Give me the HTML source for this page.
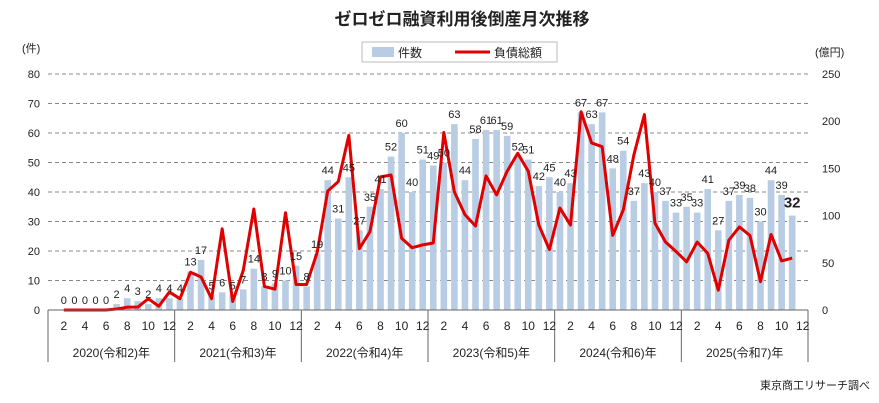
<!DOCTYPE html>
<html><head><meta charset="utf-8"><style>
body{margin:0;background:#fff;}
svg{display:block;font-family:"Liberation Sans","Noto Sans CJK JP",sans-serif;}
</style></head><body>
<svg id="c" width="879" height="403" viewBox="0 0 879 403">
<text x="462" y="25" text-anchor="middle" font-size="17" font-weight="bold" fill="#222">ゼロゼロ融資利用後倒産月次推移</text>
<g>
<rect x="362" y="42" width="195" height="20" fill="#fff" stroke="#bbb"/>
<rect x="372" y="47" width="22" height="10" fill="#b8cce4"/>
<text x="398" y="57" font-size="12" fill="#222">件数</text>
<line x1="455" y1="52" x2="490" y2="52" stroke="#e00000" stroke-width="3"/>
<text x="494" y="57" font-size="12" fill="#222">負債総額</text>
</g>
<text x="22" y="52" font-size="11" fill="#222">(件)</text>
<text x="815" y="56" font-size="11" fill="#222">(億円)</text>
<text x="870" y="389" text-anchor="end" font-size="11" fill="#222">東京商工リサーチ調べ</text>
</svg>
<script>
const years = ["2020(令和2)年","2021(令和3)年","2022(令和4)年","2023(令和5)年","2024(令和6)年","2025(令和7)年"];
const leftTicks = [0,10,20,30,40,50,60,70,80];
const rightTicks = [0,50,100,150,200,250];
const monthLabels = [2,4,6,8,10,12];
const counts = [null,0,0,0,0,0,2,4,3,2,4,4,
 4,13,17,5,6,5,7,14,8,9,10,15,
 8,19,44,31,45,27,35,41,52,60,40,51,
 49,50,63,44,58,61,61,59,52,51,42,45,
 40,43,67,63,67,48,54,37,43,40,37,33,
 35,33,41,27,37,39,38,30,44,39,32,null];
const debt = [null,0,0,0,0,0,1,3,3,12,4,19,
 12,40,35,12,86,9,42,107,25,22,103,27,
 27,61,126,136,185,65,83,141,143,76,66,69,
 71,188,125,101,89,142,122,147,166,147,90,64,
 108,90,210,177,173,79,106,164,207,92,72,62,
 51,72,60,21,74,88,79,30,80,52,55,null];
const svg=document.getElementById('c');
const NS='http://www.w3.org/2000/svg';
const X0=48,X1=808,Y0=310,Y1=74,N=72,W=(X1-X0)/N;
const xc=i=>X0+(i+0.5)*W;
const yl=v=>Y0-v/80*(Y0-Y1);
const yr=v=>Y0-v/250*(Y0-Y1);
function el(t,a,p){const e=document.createElementNS(NS,t);for(const k in a)e.setAttribute(k,a[k]);(p||svg).appendChild(e);return e;}
const g=el('g',{});


leftTicks.forEach(v=>{
 if(v>0){const l=el('line',{x1:X0,x2:X1,y1:yl(v),y2:yl(v),stroke:'#888','stroke-dasharray':'4,3','stroke-width':1},g);
 
 }
 const t=el('text',{x:40,y:yl(v)+4,'text-anchor':'end','font-size':11,fill:'#222'});t.textContent=v;
 
 
});
rightTicks.forEach(v=>{const t=el('text',{x:822,y:yr(v)+4,'font-size':11,fill:'#222'});t.textContent=v;
 
 });
counts.forEach((v,i)=>{if(v===null)return;
 const b=el('rect',{x:xc(i)-3.3,y:yl(v),width:6.6,height:Y0-yl(v),fill:'#b8cce4'},g);
 
 });
let pts=[];debt.forEach((v,i)=>{if(v!==null)pts.push(xc(i)+','+yr(v));});
const pl=el('polyline',{points:pts.join(' '),fill:'none',stroke:'#e00000','stroke-width':3,'stroke-linejoin':'round'},g);


counts.forEach((v,i)=>{if(v===null)return;
 const last=i===70;
 const t=el('text',{x:xc(i),y:yl(v)-(last?8:6),'text-anchor':'middle','font-size':last?15:11,'font-weight':last?'bold':'normal',fill:'#222'});
 t.textContent=v;
 
 });
const ax=el('line',{x1:X0,x2:X1,y1:Y0,y2:Y0,stroke:'#666'});


for(let y=0;y<=6;y++){const x=X0+y*12*W;
 const s=el('line',{x1:x,x2:x,y1:Y0,y2:362,stroke:'#666'});
 
 }
years.forEach((yn,y)=>{
 monthLabels.forEach(m=>{const t=el('text',{x:xc(y*12+m-1),y:330,'text-anchor':'middle','font-size':12,fill:'#222'});t.textContent=m;
 
 });
 const t=el('text',{x:X0+(y+0.5)*12*W,y:357,'text-anchor':'middle','font-size':12,fill:'#222'});t.textContent=yn;
 
 
});
</script>
</body></html>
